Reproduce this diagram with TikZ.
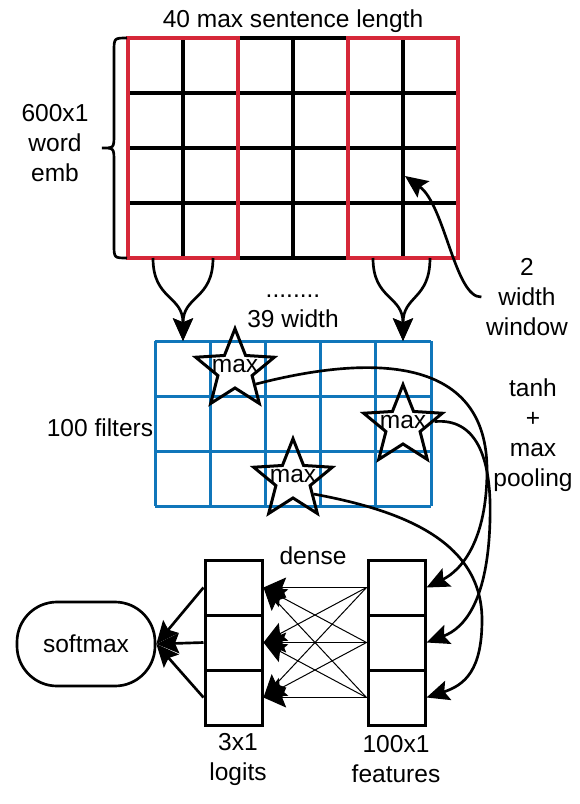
\documentclass[tikz,border=0pt]{standalone}
\usepackage{fontspec}
\setmainfont{Liberation Sans}
\usetikzlibrary{shapes.geometric,arrows.meta}
\definecolor{embred}{RGB}{214,40,57}
\definecolor{filtblue}{RGB}{16,118,186}
\begin{document}
\begin{tikzpicture}[x=0.75pt,y=-0.75pt,
  every node/.style={font=\fontsize{18.4}{22.5}\selectfont,align=center},
  arr/.style={-{Stealth[length=17pt,width=15pt,inset=3pt]},line width=2pt},
  cell/.style={draw,line width=2.25pt,minimum width=42.75pt,minimum height=41.25pt,inner sep=0pt},
  maxstar/.style={draw,line width=2.25pt,star,star points=5,star point ratio=2.3,
    minimum size=62pt,inner sep=0pt,label={[yshift=3pt]center:max}}]
  \useasboundingbox (0,0) rectangle (579,804);

  % word embeddings
  \foreach \i in {0,...,6} \draw[line width=2.4pt] (128+55*\i,38) -- (128+55*\i,258);
  \foreach \j in {0,...,4} \draw[line width=2.4pt] (128,38+55*\j) -- (458,38+55*\j);
  \draw[embred,line width=2.6pt] (128,38) rectangle (238,258) (348,38) rectangle (458,258);
  \draw[line width=2pt] (127,38) .. controls (114,38) .. (114,52) -- (114,134)
    .. controls (114,148) .. (102,148) .. controls (114,148) .. (114,162) -- (114,244)
    .. controls (114,258) .. (127,258);

  % filters
  \foreach \i in {0,...,5} \draw[filtblue,line width=2.25pt] (155+55.2*\i,341) -- (155+55.2*\i,506);
  \foreach \j in {0,...,3} \draw[filtblue,line width=2.25pt] (155,341+55*\j) -- (431,341+55*\j);

  \node (title) at (293,21) {40 max sentence length};
  \node (embdim) at (55,143) {600x1\\word\\emb};
  \node (width) at (293,311) {........\\39 width};
  \node (filters) at (100,428) {100 filters};
  \node (window) at (527,297) {2\\width\\window};
  \node (pool) at (533,435) {tanh\\+\\max\\pooling};
  \node (dense) at (313,556) {dense};
  \node (logitlbl) at (238,759) {3x1\\logits};
  \node (featlbl) at (396,759) {100x1\\features};

  \node[maxstar] (s1) at (235,370) {};
  \node[maxstar] (s2) at (403,426) {};
  \node[maxstar] (s3) at (293,480) {};

  \foreach \n/\y in {1/587.5,2/642.5,3/697.5} {
    \node[cell] (l\n) at (233.5,\y) {};
    \node[cell] (f\n) at (396.5,\y) {};
  }
  \node[draw,line width=2pt,rounded corners=30pt,minimum width=103.5pt,minimum height=63pt] (soft) at (86,644) {softmax};

  % windows
  \coordinate (w1l) at (153,258);
  \coordinate (w1r) at (213,258);
  \coordinate (w1t) at (183,341);
  \coordinate (w2l) at (373,258);
  \coordinate (w2r) at (430,258);
  \coordinate (w2t) at (403,341);
  \coordinate (wintip) at (405,176);
  \draw[arr] (w1l) .. controls (153,300) and (183,295) .. (w1t);
  \draw[arr] (w1r) .. controls (213,300) and (183,295) .. (w1t);
  \draw[arr] (w2l) .. controls (373,300) and (403,295) .. (w2t);
  \draw[arr] (w2r) .. controls (430,300) and (403,295) .. (w2t);
  \draw[arr] (window.west) .. controls (455,298) and (445,205) .. (wintip);

  % max pooling
  \draw[arr] (s1.-34) .. controls (380,352) and (487,360) .. (487,470)
    .. controls (487,540) and (462,570) .. (f1.east);
  \draw[arr] (s2.8) .. controls (475,418) and (492,455) .. (490,520)
    .. controls (488,600) and (465,628) .. (f2.east);
  \draw[arr] (s3.-34) .. controls (400,510) and (482,540) .. (482,620)
    .. controls (482,670) and (465,685) .. (f3.east);

  % dense + softmax
  \foreach \i in {1,2,3} \foreach \j in {1,2,3}
    \draw[arr,line width=0.75pt] (f\i.west) -- (l\j.east);
  \foreach \i in {1,2,3} \draw[arr] (l\i.west) -- (soft.east);
\end{tikzpicture}
\end{document}
